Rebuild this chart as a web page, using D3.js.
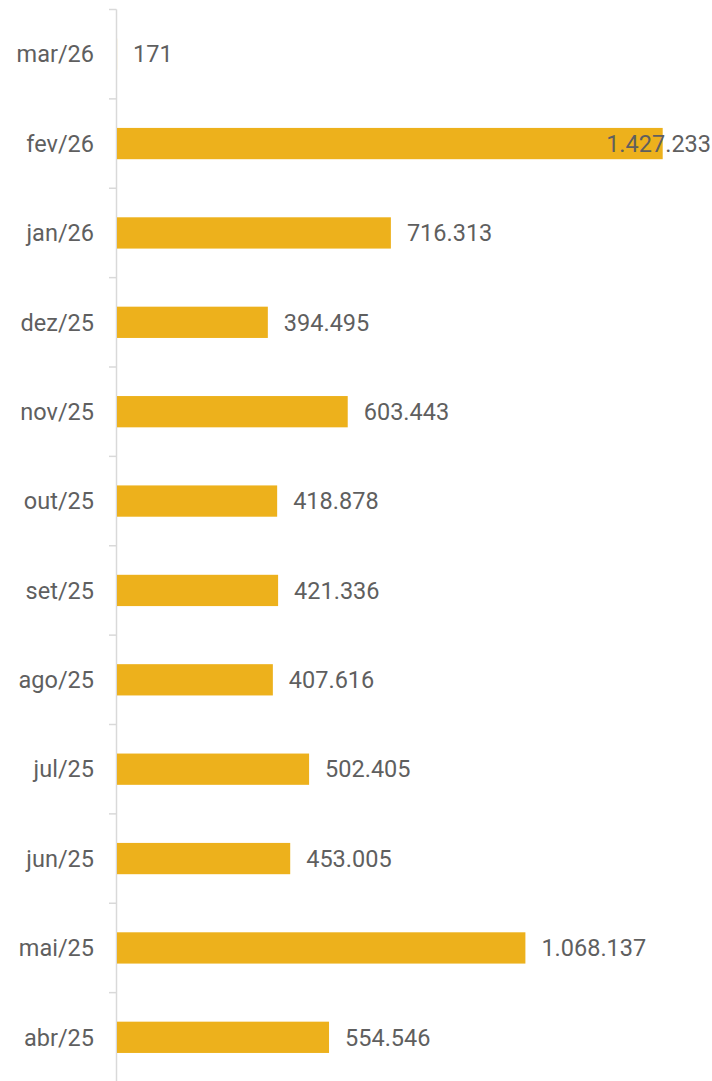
<!DOCTYPE html>
<html>
<head>
<meta charset="utf-8">
<script src="https://cdn.jsdelivr.net/npm/d3@7"></script>
<style>
  body { margin: 0; background: #fff; }
  text { font-family: Roboto, "Noto Sans", sans-serif; }
</style>
</head>
<body>
<svg id="bar-chart" width="712" height="1081"></svg>
<script>
// meses (de cima para baixo) e valores
var months = ["mar/26", "fev/26", "jan/26", "dez/25", "nov/25", "out/25",
              "set/25", "ago/25", "jul/25", "jun/25", "mai/25", "abr/25"];
var values = [171, 1427233, 716313, 394495, 603443, 418878,
              421336, 407616, 502405, 453005, 1068137, 554546];

var svg = d3.select("#bar-chart"),
    width = +svg.attr("width"),
    height = +svg.attr("height");

var data = months.map(function (m, i) { return { month: m, value: values[i] }; });

var yScale = d3.scaleBand().domain(months).range([9.5, 1082])
    .paddingInner(0.65).paddingOuter(0.325),
    xScale = d3.scaleLinear().domain([0, d3.max(values)]).range([117, 662.7]);

var fmt = function (v) { return d3.format(",")(v).replace(/,/g, "."); };

// linha do eixo
svg.append("line")
    .attr("x1", 116.5).attr("x2", 116.5)
    .attr("y1", 9.5).attr("y2", height)
    .attr("stroke", "#d9d9d9").attr("stroke-width", 1.5);

// marcas entre categorias
var step = yScale.step();
svg.selectAll(".tick-mark")
    .data(d3.range(months.length + 1))
    .enter().append("line")
    .attr("class", "tick-mark")
    .attr("x1", 109).attr("x2", 116.5)
    .attr("y1", function (i) { return 9.5 + i * step; })
    .attr("y2", function (i) { return 9.5 + i * step; })
    .attr("stroke", "#d9d9d9").attr("stroke-width", 1.5);

// rótulos dos meses
svg.selectAll(".cat")
    .data(data)
    .enter().append("text")
    .attr("class", "cat")
    .attr("x", 94)
    .attr("y", function (d) { return yScale(d.month) + yScale.bandwidth() / 2; })
    .attr("dy", "0.35em")
    .attr("text-anchor", "end")
    .attr("font-size", "23.5px")
    .attr("fill", "#5f5f5f")
    .text(function (d) { return d.month; });

// barras
svg.selectAll(".bar")
    .data(data)
    .enter().append("rect")
    .attr("class", "bar")
    .attr("x", xScale(0))
    .attr("y", function (d) { return yScale(d.month); })
    .attr("width", function (d) { return xScale(d.value) - xScale(0); })
    .attr("height", yScale.bandwidth())
    .attr("fill", "#edb11c");

// valores
svg.selectAll(".val")
    .data(data)
    .enter().append("text")
    .attr("class", "val")
    .attr("y", function (d) { return yScale(d.month) + yScale.bandwidth() / 2; })
    .attr("dy", "0.35em")
    .attr("font-size", "23.5px")
    .attr("fill", "#5f5f5f")
    .text(function (d) { return fmt(d.value); })
    .attr("x", function (d) {
        var w = this.getComputedTextLength();
        return Math.min(xScale(d.value) + 16, width - 1 - w);
    });
</script>
</body>
</html>
